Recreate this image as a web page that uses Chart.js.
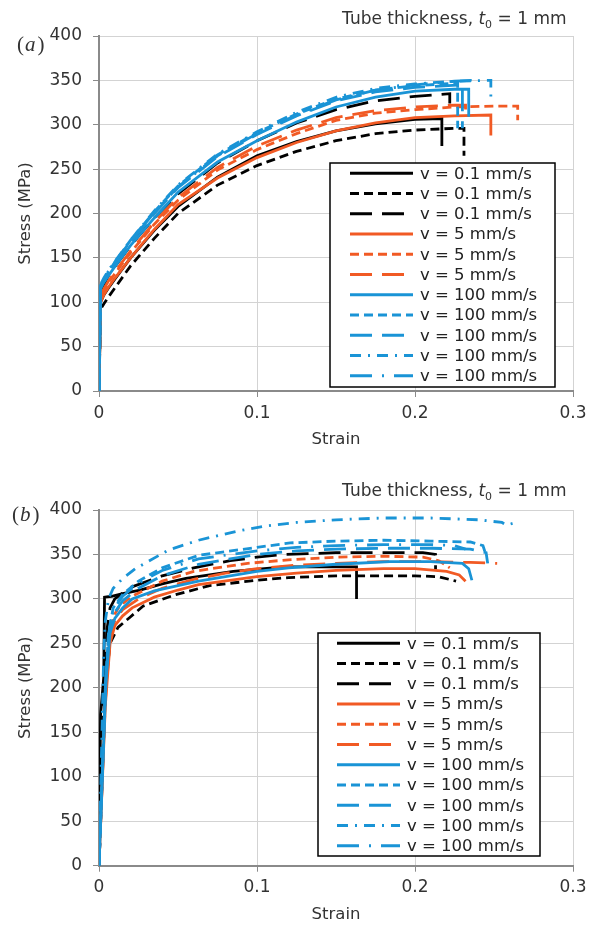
<!DOCTYPE html>
<html>
<head>
<meta charset="utf-8">
<title>Stress-strain curves</title>
<script src="https://cdn.jsdelivr.net/npm/chart.js@4.4.0/dist/chart.umd.min.js"></script>
<style>
  body { margin: 0; background: #fff; }
  canvas { display: block; }
</style>
</head>
<body>
<canvas id="chartA" width="594" height="464"></canvas>
<canvas id="chartB" width="594" height="464"></canvas>
<script>
// tick values
const strainTicks = [0, 0.1, 0.2, 0.3];
const stressTicks = [0, 50, 100, 150, 200, 250, 300, 350, 400];

// legend labels, one per series (same order in both panels)
const seriesLabels = [
    'v = 0.1 mm/s', 'v = 0.1 mm/s', 'v = 0.1 mm/s',
    'v = 5 mm/s', 'v = 5 mm/s', 'v = 5 mm/s',
    'v = 100 mm/s', 'v = 100 mm/s', 'v = 100 mm/s', 'v = 100 mm/s', 'v = 100 mm/s'
];

// panel (a): [strain, stress MPa]
const aBlack1 = [[0, 0], [0.001, 100], [0.003, 108], [0.006, 116], [0.01, 126], [0.02, 150], [0.035, 181], [0.05, 208], [0.075, 241], [0.1, 265], [0.125, 281], [0.15, 293], [0.175, 301], [0.2, 306], [0.217, 307], [0.217, 276]];
const aBlack2 = [[0, 0], [0.001, 92], [0.003, 98], [0.006, 106], [0.01, 116], [0.02, 141], [0.035, 172], [0.05, 200], [0.075, 232], [0.1, 254], [0.125, 270], [0.15, 282], [0.175, 290], [0.2, 294], [0.225, 296], [0.231, 296], [0.231, 265]];
const aBlack3 = [[0, 0], [0.001, 110], [0.003, 120], [0.006, 130], [0.01, 140], [0.02, 164], [0.035, 195], [0.05, 222], [0.075, 257], [0.1, 282], [0.125, 302], [0.15, 317], [0.175, 327], [0.2, 332], [0.222, 335], [0.222, 324]];
const aOrange1 = [[0, 0], [0.001, 100], [0.003, 108], [0.006, 117], [0.01, 127], [0.02, 150], [0.035, 182], [0.05, 210], [0.075, 240], [0.1, 263], [0.125, 280], [0.15, 293], [0.175, 302], [0.2, 308], [0.225, 310], [0.248, 311], [0.248, 288]];
const aOrange2 = [[0, 0], [0.001, 104], [0.003, 113], [0.006, 122], [0.01, 132], [0.02, 156], [0.035, 188], [0.05, 215], [0.075, 249], [0.1, 272], [0.125, 290], [0.15, 305], [0.175, 313], [0.2, 317], [0.225, 320], [0.25, 321], [0.265, 321], [0.265, 305]];
const aOrange3 = [[0, 0], [0.001, 106], [0.003, 115], [0.006, 124], [0.01, 134], [0.02, 158], [0.035, 190], [0.05, 218], [0.075, 252], [0.1, 276], [0.125, 294], [0.15, 308], [0.175, 316], [0.2, 320], [0.225, 322], [0.232, 322], [0.232, 310]];
const aBlue1 = [[0, 0], [0.001, 115], [0.003, 122], [0.006, 130], [0.01, 140], [0.02, 164], [0.035, 195], [0.05, 224], [0.075, 258], [0.1, 282], [0.125, 303], [0.15, 320], [0.175, 331], [0.2, 338], [0.225, 340], [0.234, 340], [0.234, 309]];
const aBlue2 = [[0, 0], [0.001, 118], [0.003, 125], [0.006, 134], [0.01, 145], [0.02, 170], [0.035, 202], [0.05, 231], [0.075, 266], [0.1, 291], [0.125, 312], [0.15, 329], [0.175, 339], [0.2, 344], [0.227, 347], [0.227, 296]];
const aBlue3 = [[0, 0], [0.001, 117], [0.003, 124], [0.006, 133], [0.01, 144], [0.02, 168], [0.035, 200], [0.05, 229], [0.075, 264], [0.1, 289], [0.125, 310], [0.15, 327], [0.175, 337], [0.2, 342], [0.23, 345], [0.23, 296]];
const aBlue4 = [[0, 0], [0.001, 120], [0.003, 127], [0.006, 136], [0.01, 146], [0.02, 170], [0.035, 203], [0.05, 232], [0.075, 267], [0.1, 292], [0.125, 314], [0.15, 331], [0.175, 341], [0.2, 346], [0.225, 349], [0.248, 350], [0.248, 330]];
const aBlue5 = [[0, 0], [0.001, 119], [0.003, 126], [0.006, 135], [0.01, 145], [0.02, 169], [0.035, 201], [0.05, 230], [0.075, 265], [0.1, 290], [0.125, 311], [0.15, 328], [0.175, 339], [0.2, 345], [0.225, 349], [0.235, 350], [0.235, 338]];

// panel (b)
const bBlack1 = [[0, 0], [0.001, 170], [0.003, 212], [0.0035, 302], [0.008, 303], [0.015, 306], [0.026, 310], [0.04, 317], [0.055, 323], [0.085, 331], [0.117, 336], [0.14, 336], [0.163, 336], [0.163, 300]];
const bBlack2 = [[0, 0], [0.004, 200], [0.007, 250], [0.012, 268], [0.02, 280], [0.028, 292], [0.047, 304], [0.07, 315], [0.1, 321], [0.12, 324], [0.15, 326], [0.2, 326], [0.215, 325], [0.226, 320]];
const bBlack3 = [[0, 0], [0.003, 200], [0.005, 265], [0.007, 290], [0.01, 300], [0.02, 313], [0.04, 326], [0.06, 335], [0.083, 343], [0.1, 347], [0.117, 350], [0.15, 352], [0.18, 352], [0.205, 352], [0.213, 350], [0.213, 333]];
const bOrange1 = [[0, 0], [0.004, 180], [0.007, 250], [0.01, 270], [0.015, 281], [0.021, 290], [0.035, 302], [0.05, 310], [0.063, 316], [0.1, 325], [0.125, 329], [0.15, 332], [0.18, 334], [0.2, 334], [0.22, 331], [0.228, 327], [0.232, 320]];
const bOrange2 = [[0, 0], [0.004, 190], [0.007, 262], [0.01, 283], [0.013, 292], [0.021, 303], [0.04, 320], [0.06, 331], [0.094, 340], [0.12, 344], [0.15, 347], [0.18, 348], [0.205, 347], [0.215, 343], [0.222, 335]];
const bOrange3 = [[0, 0], [0.004, 185], [0.007, 255], [0.01, 276], [0.015, 288], [0.025, 300], [0.04, 312], [0.06, 322], [0.08, 329], [0.1, 334], [0.125, 338], [0.15, 340], [0.18, 342], [0.21, 342], [0.235, 341], [0.252, 340]];
const bBlue1 = [[0, 0], [0.0045, 210], [0.007, 262], [0.01, 278], [0.015, 290], [0.021, 300], [0.035, 309], [0.05, 315], [0.063, 320], [0.1, 331], [0.12, 335], [0.15, 339], [0.184, 342], [0.21, 342], [0.23, 340], [0.234, 334], [0.236, 321]];
const bBlue2 = [[0, 0], [0.004, 200], [0.006, 262], [0.009, 290], [0.015, 305], [0.025, 320], [0.04, 335], [0.063, 349], [0.1, 358], [0.121, 363], [0.15, 365], [0.18, 366], [0.21, 365], [0.235, 364], [0.243, 360], [0.245, 349]];
const bBlue3 = [[0, 0], [0.004, 195], [0.006, 255], [0.009, 282], [0.015, 298], [0.025, 312], [0.04, 326], [0.063, 339], [0.1, 350], [0.125, 354], [0.15, 356], [0.18, 357], [0.21, 357], [0.235, 356], [0.245, 352], [0.246, 340]];
const bBlue4 = [[0, 0], [0.003, 240], [0.004, 275], [0.006, 300], [0.009, 312], [0.015, 323], [0.023, 334], [0.044, 355], [0.063, 366], [0.087, 376], [0.105, 382], [0.125, 386], [0.15, 389], [0.18, 391], [0.21, 391], [0.24, 389], [0.255, 386], [0.258, 383], [0.262, 385]];
const bBlue5 = [[0, 0], [0.004, 200], [0.006, 260], [0.009, 288], [0.015, 303], [0.025, 318], [0.04, 332], [0.063, 345], [0.1, 354], [0.125, 358], [0.15, 360], [0.18, 361], [0.21, 361], [0.225, 360], [0.232, 356]];

const curvesA = [aBlack1, aBlack2, aBlack3, aOrange1, aOrange2, aOrange3, aBlue1, aBlue2, aBlue3, aBlue4, aBlue5];
const curvesB = [bBlack1, bBlack2, bBlack3, bOrange1, bOrange2, bOrange3, bBlue1, bBlue2, bBlue3, bBlue4, bBlue5];

// styles
const BLACK = '#000000';
const ORANGE = '#f15a24';
const BLUE = '#1a94d6';
const lineColors = [BLACK, BLACK, BLACK, ORANGE, ORANGE, ORANGE, BLUE, BLUE, BLUE, BLUE, BLUE];
const lineDashes = [[], [9, 5], [22, 10], [], [9, 5], [22, 10], [], [9, 5], [22, 10], [11, 7, 2, 7], [22, 10, 2, 10]];
const FONT = 'DejaVu Sans';

function makeDatasets(curves) {
    return curves.map((pts, i) => ({
        label: seriesLabels[i],
        data: pts.map(p => ({ x: p[0], y: p[1] })),
        borderColor: lineColors[i],
        borderDash: lineDashes[i],
        borderWidth: 2.8,
        pointRadius: 0,
        showLine: true,
        fill: false,
        tension: 0,
        order: i < 3 ? 2 : (i < 6 ? 1 : 0)
    }));
}

// draws panel letter, title and the in-plot legend box
const panelDecor = {
    id: 'panelDecor',
    afterDraw(chart, args, opts) {
        const ctx = chart.ctx;
        ctx.save();
        ctx.fillStyle = '#333';
        ctx.textBaseline = 'alphabetic';
        ctx.textAlign = 'left';

        let x = opts.letterX;
        ctx.font = '21px "Liberation Serif"';
        ctx.fillText('(', x, opts.letterY);
        x += ctx.measureText('(').width + 1;
        ctx.font = 'italic 21px "Liberation Serif"';
        ctx.fillText(opts.letter, x, opts.letterY);
        x += ctx.measureText(opts.letter).width + 2;
        ctx.font = '21px "Liberation Serif"';
        ctx.fillText(')', x, opts.letterY);

        const parts = [
            { t: 'Tube thickness, ', f: '17px "' + FONT + '"', dy: 0 },
            { t: 't', f: 'italic 17px "' + FONT + '"', dy: 0 },
            { t: '0', f: '11px "' + FONT + '"', dy: 4 },
            { t: ' = 1 mm', f: '17px "' + FONT + '"', dy: 0 }
        ];
        let total = 0;
        parts.forEach(p => { ctx.font = p.f; p.w = ctx.measureText(p.t).width; total += p.w; });
        x = opts.titleRight - total;
        parts.forEach(p => { ctx.font = p.f; ctx.fillText(p.t, x, opts.titleY + p.dy); x += p.w; });

        const b = opts.box;
        ctx.fillStyle = '#fff';
        ctx.fillRect(b.x, b.y, b.w, b.h);
        ctx.strokeStyle = '#000';
        ctx.lineWidth = 1.5;
        ctx.strokeRect(b.x, b.y, b.w, b.h);
        ctx.font = '16.5px "' + FONT + '"';
        ctx.textBaseline = 'middle';
        chart.data.datasets.forEach((ds, i) => {
            const y = b.firstRow + i * b.rowGap;
            ctx.setLineDash(ds.borderDash);
            ctx.strokeStyle = ds.borderColor;
            ctx.lineWidth = 3;
            ctx.beginPath();
            ctx.moveTo(b.lineX0, y);
            ctx.lineTo(b.lineX1, y);
            ctx.stroke();
            ctx.setLineDash([]);
            ctx.fillStyle = '#222';
            ctx.fillText(ds.label, b.textX, y + 1);
        });
        ctx.restore();
    }
};

function makeOptions(cfg) {
    return {
        responsive: false,
        animation: false,
        layout: { padding: { top: cfg.top, right: 21, left: 0, bottom: 0 } },
        scales: {
            x: {
                type: 'linear',
                min: 0,
                max: 0.3,
                afterBuildTicks: s => { s.ticks = strainTicks.map(v => ({ value: v })); },
                afterFit: s => { s.height = cfg.xAxisHeight; },
                grid: { color: '#d3d3d3', tickLength: 6, tickColor: '#8a8a8a' },
                border: { color: '#8a8a8a', width: 2 },
                ticks: { color: '#333', font: { family: FONT, size: 17 }, padding: 6, maxRotation: 0 },
                title: { display: true, text: 'Strain', color: '#333', font: { family: FONT, size: 16.5 }, padding: { top: 0, bottom: cfg.xTitlePad } }
            },
            y: {
                type: 'linear',
                min: 0,
                max: 400,
                afterBuildTicks: s => { s.ticks = stressTicks.map(v => ({ value: v })); },
                afterFit: s => { s.width = 99; },
                grid: { color: '#d3d3d3', tickLength: 6, tickColor: '#8a8a8a' },
                border: { color: '#8a8a8a', width: 2 },
                ticks: { color: '#333', font: { family: FONT, size: 17 }, padding: 11 },
                title: { display: true, text: 'Stress (MPa)', color: '#333', font: { family: FONT, size: 16.5 }, padding: { top: 16, bottom: 0 } }
            }
        },
        plugins: {
            legend: { display: false },
            tooltip: { enabled: false },
            panelDecor: cfg.decor
        }
    };
}

new Chart(document.getElementById('chartA'), {
    type: 'scatter',
    data: { datasets: makeDatasets(curvesA) },
    options: makeOptions({
        top: 36, xAxisHeight: 73, xTitlePad: 14,
        decor: {
            letter: 'a', letterX: 17, letterY: 51, titleRight: 566.5, titleY: 24,
            box: { x: 330, y: 163, w: 225, h: 224, firstRow: 173.3, rowGap: 20.24, lineX0: 350, lineX1: 413, textX: 420 }
        }
    }),
    plugins: [panelDecor]
});

new Chart(document.getElementById('chartB'), {
    type: 'scatter',
    data: { datasets: makeDatasets(curvesB) },
    options: makeOptions({
        top: 46, xAxisHeight: 62.3, xTitlePad: 3,
        decor: {
            letter: 'b', letterX: 12, letterY: 57, titleRight: 566.5, titleY: 32,
            box: { x: 318, y: 169, w: 222, h: 223, firstRow: 179.3, rowGap: 20.24, lineX0: 337, lineX1: 400, textX: 407 }
        }
    }),
    plugins: [panelDecor]
});
</script>
</body>
</html>
